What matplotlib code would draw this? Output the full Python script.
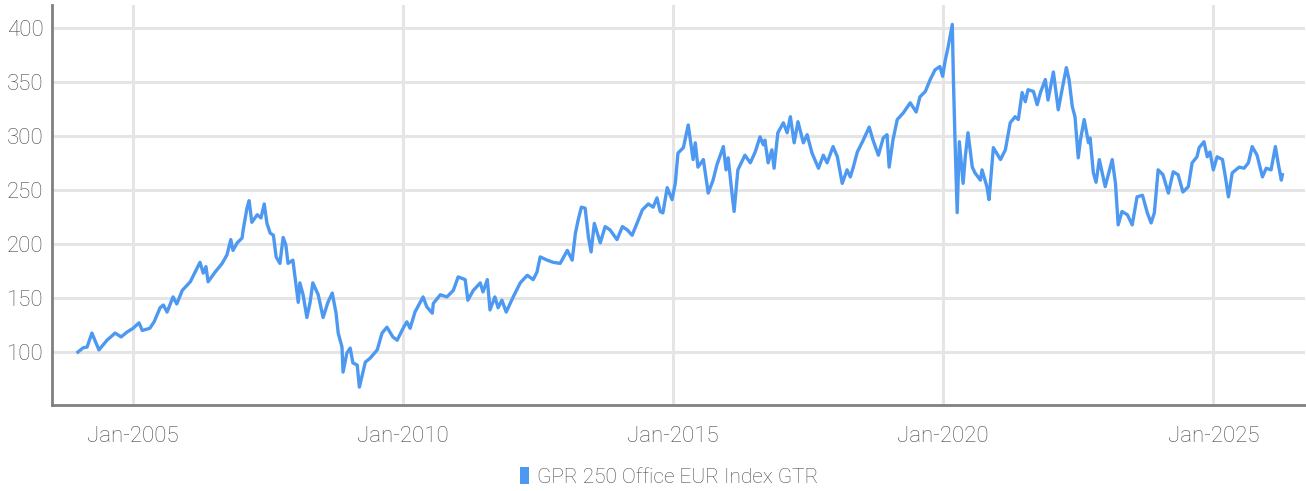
import matplotlib
matplotlib.use("Agg")
from matplotlib import pyplot as plt
from matplotlib.patches import Patch
import pandas as pd

# index level (decimal year, value)
years = [
    2003.98, 2004.08, 2004.15, 2004.24, 2004.37, 2004.52, 2004.67, 2004.78, 2004.89,
    2005.00, 2005.11, 2005.17, 2005.31, 2005.39, 2005.50, 2005.56, 2005.63, 2005.74,
    2005.81, 2005.91, 2006.06, 2006.15, 2006.24, 2006.30, 2006.35, 2006.39, 2006.52,
    2006.65, 2006.74, 2006.81, 2006.85, 2006.93, 2007.02, 2007.04, 2007.11, 2007.15,
    2007.20, 2007.30, 2007.37, 2007.43, 2007.48, 2007.54, 2007.60, 2007.65, 2007.72,
    2007.78, 2007.83, 2007.87, 2007.96, 2008.00, 2008.06, 2008.09, 2008.15, 2008.22,
    2008.28, 2008.33, 2008.43, 2008.52, 2008.61, 2008.69, 2008.76, 2008.80, 2008.87,
    2008.89, 2008.96, 2009.02, 2009.07, 2009.15, 2009.19, 2009.30, 2009.39, 2009.52,
    2009.61, 2009.70, 2009.81, 2009.89, 2010.00, 2010.07, 2010.13, 2010.22, 2010.37,
    2010.44, 2010.54, 2010.56, 2010.69, 2010.81, 2010.93, 2011.02, 2011.15, 2011.20,
    2011.30, 2011.43, 2011.48, 2011.56, 2011.61, 2011.70, 2011.76, 2011.83, 2011.91,
    2012.04, 2012.17, 2012.30, 2012.41, 2012.48, 2012.54, 2012.67, 2012.78, 2012.91,
    2013.04, 2013.13, 2013.19, 2013.24, 2013.30, 2013.37, 2013.43, 2013.48, 2013.54,
    2013.65, 2013.74, 2013.83, 2013.96, 2014.06, 2014.15, 2014.24, 2014.33, 2014.43,
    2014.54, 2014.63, 2014.70, 2014.76, 2014.81, 2014.89, 2014.98, 2015.04, 2015.09,
    2015.19, 2015.28, 2015.37, 2015.41, 2015.46, 2015.56, 2015.65, 2015.74, 2015.81,
    2015.93, 2015.98, 2016.02, 2016.09, 2016.13, 2016.20, 2016.33, 2016.43, 2016.52,
    2016.61, 2016.67, 2016.70, 2016.76, 2016.83, 2016.87, 2016.94, 2017.04, 2017.11,
    2017.17, 2017.24, 2017.31, 2017.41, 2017.48, 2017.57, 2017.69, 2017.78, 2017.85,
    2017.96, 2018.04, 2018.13, 2018.22, 2018.28, 2018.33, 2018.41, 2018.52, 2018.63,
    2018.70, 2018.80, 2018.89, 2018.96, 2019.00, 2019.07, 2019.15, 2019.26, 2019.39,
    2019.50, 2019.57, 2019.67, 2019.76, 2019.85, 2019.94, 2019.99, 2020.04, 2020.09,
    2020.17, 2020.19, 2020.22, 2020.26, 2020.30, 2020.37, 2020.41, 2020.46, 2020.54,
    2020.59, 2020.69, 2020.72, 2020.81, 2020.85, 2020.93, 2021.06, 2021.15, 2021.24,
    2021.33, 2021.39, 2021.46, 2021.52, 2021.57, 2021.67, 2021.74, 2021.80, 2021.89,
    2021.94, 2022.04, 2022.13, 2022.20, 2022.28, 2022.33, 2022.39, 2022.44, 2022.50,
    2022.54, 2022.61, 2022.69, 2022.72, 2022.78, 2022.83, 2022.89, 2023.00, 2023.13,
    2023.19, 2023.24, 2023.31, 2023.41, 2023.50, 2023.59, 2023.69, 2023.78, 2023.85,
    2023.91, 2023.98, 2024.07, 2024.17, 2024.26, 2024.35, 2024.44, 2024.54, 2024.61,
    2024.70, 2024.74, 2024.83, 2024.89, 2024.94, 2025.00, 2025.07, 2025.17, 2025.24,
    2025.28, 2025.35, 2025.48, 2025.57, 2025.65, 2025.72, 2025.81, 2025.91, 2025.98,
    2026.07, 2026.15, 2026.20, 2026.26, 2026.28,
]
values = [
    100.0, 104.0, 104.6, 117.6, 102.0, 111.0, 117.6, 114.0, 118.5,
    122.0, 127.0, 120.0, 122.0, 128.0, 141.0, 143.5, 137.0, 151.0,
    144.5, 157.0, 165.0, 174.0, 183.0, 173.0, 179.0, 165.0, 174.0,
    182.0, 190.0, 204.0, 194.0, 201.0, 205.5, 213.0, 233.0, 240.0,
    220.0, 227.0, 224.0, 237.0, 219.0, 210.0, 208.0, 188.0, 182.0,
    206.0, 199.0, 182.0, 185.0, 169.5, 146.0, 164.0, 153.0, 132.0,
    146.0, 164.0, 153.0, 132.0, 146.0, 154.6, 136.0, 117.6, 104.6,
    81.5, 99.0, 103.7, 90.0, 88.0, 67.6, 90.7, 94.4, 102.0,
    117.6, 123.0, 114.0, 111.0, 122.0, 128.0, 122.0, 137.0, 151.0,
    141.7, 136.0, 145.0, 153.0, 151.0, 157.0, 169.5, 167.0, 148.0,
    157.0, 164.0, 155.6, 167.0, 139.0, 151.0, 141.0, 148.0, 137.0,
    151.0, 164.0, 171.0, 167.0, 174.0, 188.0, 185.0, 183.0, 182.0,
    194.0, 185.0, 210.0, 222.0, 234.0, 233.0, 206.5, 192.6, 219.0,
    201.0, 216.0, 213.0, 204.0, 216.0, 213.0, 208.0, 219.0, 231.5,
    237.0, 234.0, 242.6, 230.0, 228.7, 252.0, 241.0, 256.0, 284.0,
    289.0, 310.0, 278.0, 293.5, 271.0, 278.0, 247.0, 259.0, 273.0,
    290.0, 268.5, 279.6, 247.0, 230.0, 268.5, 282.0, 275.0, 285.0,
    299.0, 291.7, 296.0, 275.0, 287.0, 270.0, 302.8, 312.0, 302.8,
    317.6, 293.5, 313.0, 293.5, 301.0, 284.0, 270.0, 282.0, 275.0,
    290.0, 280.6, 256.0, 268.5, 262.0, 270.0, 285.0, 296.0, 308.0,
    296.0, 282.0, 298.0, 301.0, 271.0, 296.0, 315.0, 321.0, 330.5,
    322.0, 336.0, 341.0, 352.0, 361.0, 364.0, 355.0, 370.0, 381.5,
    403.0, 352.0, 296.0, 229.0, 294.5, 256.0, 280.6, 302.8, 271.0,
    265.7, 259.0, 268.5, 253.0, 241.0, 289.0, 278.0, 287.0, 312.0,
    317.6, 315.0, 340.0, 331.5, 342.6, 341.0, 328.7, 340.0, 352.0,
    333.0, 359.0, 324.0, 342.6, 363.0, 352.0, 327.0, 317.6, 279.6,
    296.0, 315.0, 293.5, 298.0, 265.7, 257.0, 278.0, 253.0, 278.0,
    256.0, 217.6, 230.0, 227.0, 217.6, 243.5, 245.0, 228.7, 219.4,
    228.7, 268.5, 264.0, 247.0, 266.7, 264.0, 248.0, 253.0, 275.0,
    280.6, 289.0, 294.5, 280.6, 285.0, 268.5, 280.6, 278.0, 257.0,
    243.5, 265.7, 271.0, 270.0, 275.0, 290.0, 282.0, 262.0, 270.0,
    268.5, 290.0, 275.0, 259.0, 264.0,
]
tick_years = [2005, 2010, 2015, 2020, 2025]
y_ticks = [100, 150, 200, 250, 300, 350, 400]
series_name = "GPR 250 Office EUR Index GTR"


def to_date(y):
    base = int(y)
    return pd.Timestamp(f"{base}-01-01") + pd.Timedelta(days=(y - base) * 365.25)


dates = [to_date(y) for y in years]
line_color = "#4d99f2"
text_color = "#484848"
grid_color = "#e5e5e5"

plt.rcParams["font.family"] = ["Roboto", "DejaVu Sans"]

fig = plt.figure(figsize=(13.06, 4.91), dpi=100)
ax = fig.add_axes([0.0398, 0.175, 0.9595, 0.815])

ax.plot(dates, values, color=line_color, linewidth=2.4, solid_joinstyle="round")

ax.set_xlim(to_date(2003.5), to_date(2026.70))
ax.set_ylim(51, 421)
ax.set_yticks(y_ticks)
xt = [pd.Timestamp(f"{y}-01-01") for y in tick_years]
ax.set_xticks(xt)
ax.set_xticklabels([d.strftime("%b-%Y") for d in xt])

ax.grid(True, color=grid_color, linewidth=2.2)
ax.set_axisbelow(True)
ax.tick_params(length=0, labelsize=16, labelcolor=text_color, pad=6)
ax.tick_params(axis="x", pad=15)
for lab in ax.get_xticklabels() + ax.get_yticklabels():
    lab.set_fontweight("light")

for s in ["top", "right"]:
    ax.spines[s].set_visible(False)
for s in ["left", "bottom"]:
    ax.spines[s].set_color("#808080")
    ax.spines[s].set_linewidth(2)

handle = Patch(facecolor=line_color, edgecolor="none")
leg = fig.legend([handle], [series_name], loc="center", bbox_to_anchor=(669 / 1306, 1 - 477 / 491),
                 frameon=False, handlelength=0.45, handleheight=0.9, handletextpad=0.35,
                 prop={"size": 15, "weight": "light"})
for t in leg.get_texts():
    t.set_color(text_color)

fig.savefig("out.png", dpi=100)
